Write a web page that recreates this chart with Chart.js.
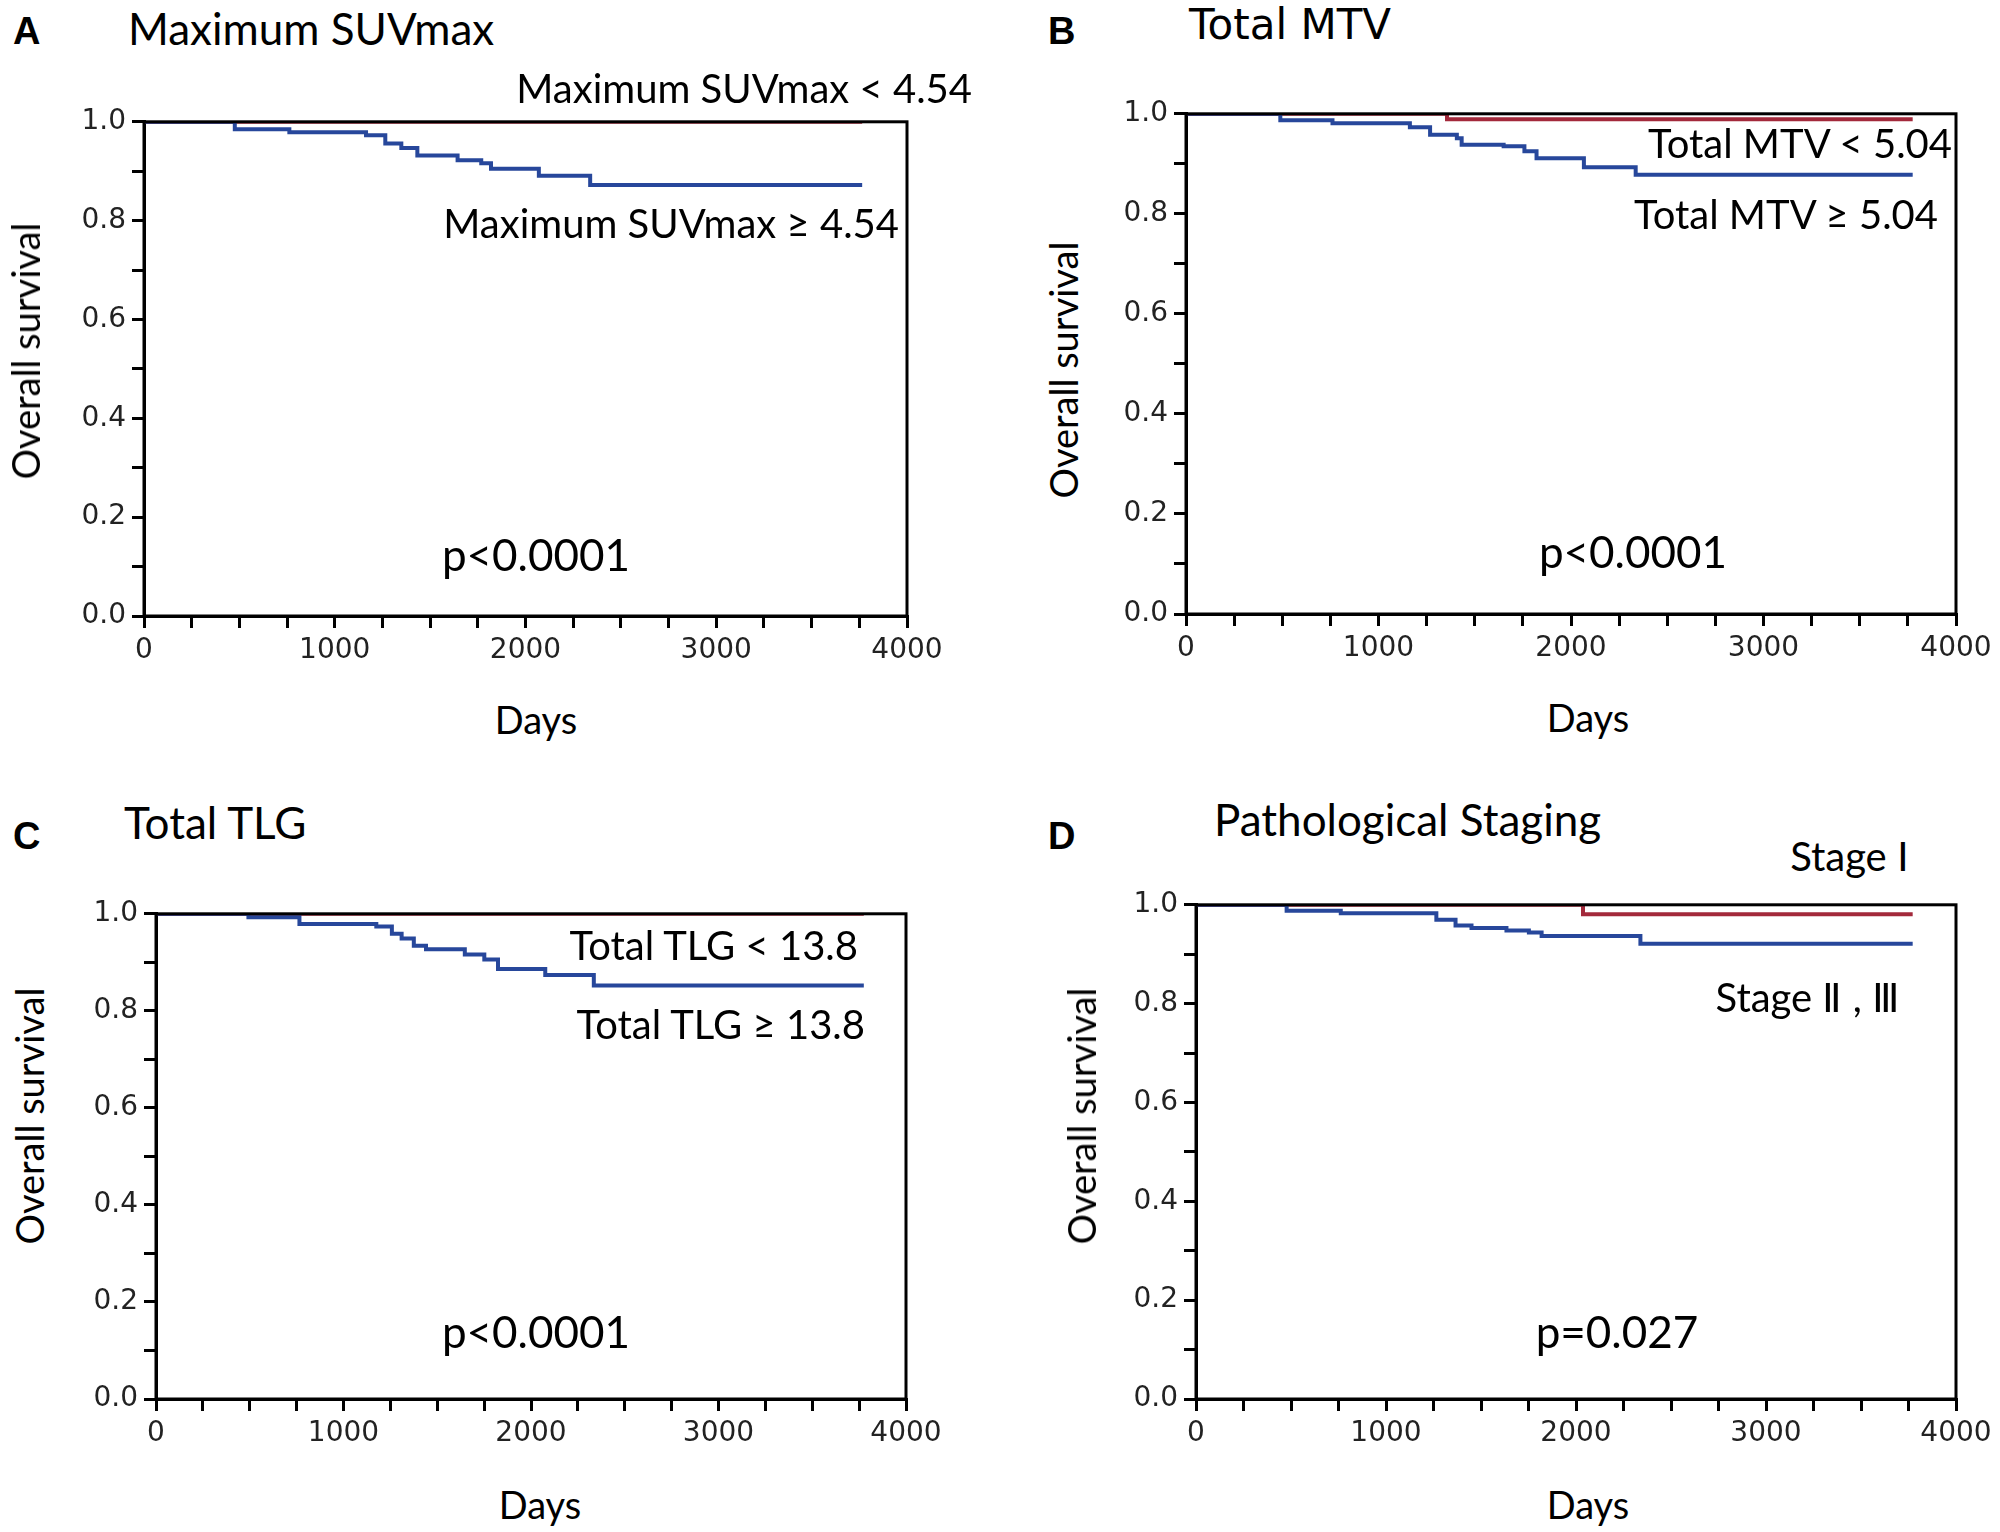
<!DOCTYPE html>
<html><head><meta charset="utf-8">
<script src="https://cdn.jsdelivr.net/npm/chart.js@4.4.0/dist/chart.umd.min.js"></script>
<style>
html,body{margin:0;padding:0;background:#fff;width:2000px;height:1532px;overflow:hidden;position:relative}
.t{position:absolute;white-space:nowrap;font-family:Lato,"Open Sans",sans-serif;color:#000;line-height:1}
.L{font-family:"Liberation Sans",Arial,sans-serif;font-weight:bold;font-size:38px}
canvas{position:absolute}
</style></head><body>
<script>
// ---- data ----
const tickDays = [0,1000,2000,3000,4000];
const aHighDays = [0,476,762,1164,1265,1349,1433,1644,1768,1819,2070,2339,3765];
const aHighSurv = [1,0.985,0.979,0.973,0.956,0.947,0.932,0.922,0.916,0.905,0.891,0.872,0.872];
const aLowDays = [0,3765];
const aLowSurv = [1,1];
const bHighDays = [0,490,761,1163,1268,1407,1432,1650,1758,1821,2067,2336,3775];
const bHighSurv = [1,0.987,0.981,0.973,0.958,0.951,0.938,0.935,0.925,0.911,0.893,0.878,0.878];
const bLowDays = [0,1356,3775];
const bLowSurv = [1,0.989,0.989];
const cHighDays = [0,493,765,1175,1258,1310,1375,1440,1647,1751,1824,2076,2335,3775];
const cHighSurv = [1,0.993,0.979,0.974,0.959,0.949,0.934,0.927,0.916,0.906,0.886,0.874,0.852,0.852];
const cLowDays = [0,3775];
const cLowSurv = [1,1];
const dHighDays = [0,477,762,1265,1366,1450,1634,1752,1819,2339,3772];
const dHighSurv = [1,0.988,0.983,0.970,0.958,0.953,0.948,0.944,0.937,0.921,0.921];
const dLowDays = [0,2037,3772];
const dLowSurv = [1,0.981,0.981];

const RED = '#a3293b', BLUE = '#27479b';
const pts = (d,s)=>d.map((x,i)=>({x, y:s[i]}));

const panels = [
 {id:'A', left:144, right:907, top:119, bottom:616, low:[aLowDays,aLowSurv], high:[aHighDays,aHighSurv]},
 {id:'B', left:1186, right:1956, top:111, bottom:614, low:[bLowDays,bLowSurv], high:[bHighDays,bHighSurv]},
 {id:'C', left:156, right:906, top:911, bottom:1399, low:[cLowDays,cLowSurv], high:[cHighDays,cHighSurv]},
 {id:'D', left:1196, right:1956, top:902, bottom:1399, low:[dLowDays,dLowSurv], high:[dHighDays,dHighSurv]}
];

const frame = {id:'frame', afterDraw(c){const a=c.chartArea,x=c.ctx;x.save();x.strokeStyle='#000';x.lineWidth=3;x.strokeRect(a.left,a.top,a.right-a.left,a.bottom-a.top);x.restore();}};

const YW=100, XH=70, PT=20, PR=60;
panels.forEach(p=>{
  const cv=document.createElement('canvas');
  const w=(p.right-p.left)+YW+PR, h=(p.bottom-p.top)+PT+XH;
  cv.style.left=(p.left-YW)+'px'; cv.style.top=(p.top-PT)+'px';
  cv.style.width=w+'px'; cv.style.height=h+'px';
  document.body.appendChild(cv);
  new Chart(cv,{type:'line',
    data:{datasets:[
      {data:pts(p.high[0],p.high[1]),borderColor:BLUE,borderWidth:4,stepped:'before',pointRadius:0},
      {data:pts(p.low[0],p.low[1]),borderColor:RED,borderWidth:4,stepped:'before',pointRadius:0}
    ]},
    options:{responsive:false,animation:false,devicePixelRatio:1,
      layout:{padding:{left:0,top:PT,right:PR,bottom:0}},
      plugins:{legend:{display:false},tooltip:{enabled:false}},
      scales:{
        x:{type:'linear',min:0,max:4000,
          afterFit(s){s.height=XH;},
          ticks:{stepSize:250,autoSkip:false,maxRotation:0,padding:6,color:'#222',font:{family:'DejaVu Sans',size:28},
            callback:v=>tickDays.includes(v)?String(v):''},
          grid:{drawOnChartArea:false,color:'#000',lineWidth:3,tickLength:12},
          border:{color:'#000',width:3}},
        y:{min:0,max:1,
          afterFit(s){s.width=YW;},
          ticks:{stepSize:0.1,autoSkip:false,padding:6,color:'#222',font:{family:'DejaVu Sans',size:28},
            callback:v=>{const r=Math.round(v*10);return r%2===0?(r/10).toFixed(1):'';}},
          grid:{drawOnChartArea:false,color:'#000',lineWidth:3,tickLength:12},
          border:{color:'#000',width:3}}
      }},
    plugins:[frame]});
});

// ---- texts ----
function addText(cls,txt,x,y,size,opt={}){
  const d=document.createElement('div');d.className='t '+cls;d.textContent=txt;
  if(size)d.style.fontSize=size+'px';
  if(opt.family)d.style.fontFamily=opt.family;
  d.style.top=y+'px';
  if(opt.right!==undefined){d.style.right=(2000-opt.right)+'px';}
  else if(opt.center){d.style.left=x+'px';d.style.transform='translateX(-50%)';}
  else d.style.left=x+'px';
  if(opt.rot){d.style.left=x+'px';d.style.transform='translate(-50%,-50%) rotate(-90deg)';}
  document.body.appendChild(d);
}
addText('L','A',13,12);addText('L','B',1048,12);addText('L','C',13,817);addText('L','D',1048,817);
addText('','Maximum SUVmax',128,6,44);
addText('','Total MTV',1189,4,42,{family:'DejaVu Sans'});
addText('','Total TLG',124,800,44);
addText('','Pathological Staging',1214,797,44);
// annotations
addText('','Maximum SUVmax < 4.54',0,68,40,{right:972});
addText('','Maximum SUVmax \u2265 4.54',0,203,40,{right:899});
addText('','Total MTV < 5.04',0,123,40,{right:1952});
addText('','Total MTV \u2265 5.04',0,194,40,{right:1938});
addText('','Total TLG < 13.8',0,925,40,{right:858});
addText('','Total TLG \u2265 13.8',0,1004,40,{right:865});
addText('','Stage   \u2160',0,836,40,{right:1909});
addText('','Stage  \u2161 , \u2162',0,977,40,{right:1900});
// p values
addText('','p<0.0001',536,532,44,{center:true});
addText('','p<0.0001',1633,529,44,{center:true});
addText('','p<0.0001',536,1309,44,{center:true});
addText('','p=0.027',1617,1309,44,{center:true});
// axis titles
addText('','Overall survival',25,351,38,{rot:true});
addText('','Overall survival',1063,370,38,{rot:true});
addText('','Overall survival',29,1116,38,{rot:true});
addText('','Overall survival',1081,1116,38,{rot:true});
addText('','Days',536,700,38,{center:true});
addText('','Days',1588,698,38,{center:true});
addText('','Days',540,1485,38,{center:true});
addText('','Days',1588,1485,38,{center:true});
</script>
</body></html>
